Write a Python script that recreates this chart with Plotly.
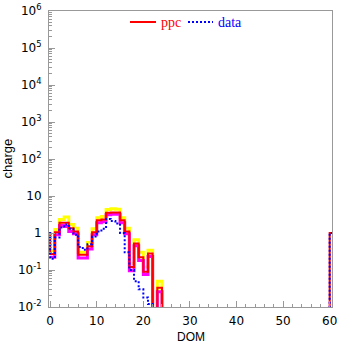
import plotly.graph_objects as go

# ---------------- data ----------------
dom = list(range(0, 61))  # lower edge of each 1-wide DOM bin

ppc = [0.27, 1.05, 1.9, 1.9, 1.35, 1.1, 0.26, 0.26, 0.44, 1.05,
       2.2, 2.3, 3.5, 3.6, 3.6, 2.2, 1.1, 0.12, 0.52, 0.22,
       0.09, 0.28, 0, 0.033, 0, 0, 0, 0, 0, 0,
       0, 0, 0, 0, 0, 0, 0, 0, 0, 0,
       0, 0, 0, 0, 0, 0, 0, 0, 0, 0,
       0, 0, 0, 0, 0, 0, 0, 0, 0, 0,
       1]

ppc_high = [0.33, 1.25, 2.3, 2.7, 1.7, 1.35, 0.3, 0.3, 0.55, 1.3,
            2.6, 2.8, 4.3, 4.5, 4.4, 2.6, 1.35, 0.15, 0.66, 0.3,
            0.12, 0.34, 0, 0.05, 0, 0, 0, 0, 0, 0,
            0, 0, 0, 0, 0, 0, 0, 0, 0, 0,
            0, 0, 0, 0, 0, 0, 0, 0, 0, 0,
            0, 0, 0, 0, 0, 0, 0, 0, 0, 0,
            0]

ppc_low = [0.22, 0.9, 1.6, 1.5, 1.1, 0.95, 0.21, 0.21, 0.37, 0.9,
           1.9, 2.0, 3.1, 3.2, 3.2, 1.9, 0.95, 0.095, 0.45, 0.18,
           0.075, 0.23, 0, 0.026, 0, 0, 0, 0, 0, 0,
           0, 0, 0, 0, 0, 0, 0, 0, 0, 0,
           0, 0, 0, 0, 0, 0, 0, 0, 0, 0,
           0, 0, 0, 0, 0, 0, 0, 0, 0, 0,
           0]

data = [0.2, 0.75, 1.4, 1.7, 1.3, 0.9, 0.42, 0.35, 0.5, 0.8,
        1.1, 1.3, 2.4, 2.1, 1.8, 1.0, 0.3, 0.1, 0.05, 0.03,
        0.018, 0.012, 0, 0, 0, 0, 0, 0, 0, 0,
        0, 0, 0, 0, 0, 0, 0, 0, 0, 0,
        0, 0, 0, 0, 0, 0, 0, 0, 0, 0,
        0, 0, 0, 0, 0, 0, 0, 0, 0, 0,
        1]

underflow_ppc = 1
underflow_data = 1

x_tick_vals = [0, 10, 20, 30, 40, 50, 60]
x_tick_text = ["0", "10", "20", "30", "40", "50", "60"]
x_minor_vals = [v for v in range(0, 61, 2) if v % 10 != 0]

y_tick_vals = [1e-2, 1e-1, 1, 10, 1e2, 1e3, 1e4, 1e5, 1e6]
y_tick_text = ["10<sup>-2</sup>", "10<sup>-1</sup>", "1", "10",
               "10<sup>2</sup>", "10<sup>3</sup>", "10<sup>4</sup>",
               "10<sup>5</sup>", "10<sup>6</sup>"]
y_minor_vals = [m * 10.0 ** e for e in range(-2, 6) for m in range(2, 10)]

# ---------------- helpers ----------------
FLOOR = 1e-6  # empty bins are drawn below the visible log range


def steps(values, underflow=None):
    xs, ys = [], []
    if underflow is not None:
        xs.append(dom[0] - 1)
        ys.append(underflow)
    for d, v in zip(dom, values):
        xs.append(d)
        ys.append(v if v > 0 else FLOOR)
    xs.append(dom[-1] + 1)
    ys.append(values[-1] if values[-1] > 0 else FLOOR)
    return xs, ys


fig = go.Figure()

for vals, uf, color, width, dash in [
    (ppc_high, None, "#ffff00", 3, "solid"),
    (ppc_low, None, "#ff00ff", 3, "solid"),
    (ppc, underflow_ppc, "#ff0000", 2, "solid"),
    (data, underflow_data, "#0000ff", 2, "2px,2px"),
]:
    xs, ys = steps(vals, uf)
    fig.add_trace(go.Scatter(x=xs, y=ys, mode="lines", line_shape="hv",
                             line=dict(color=color, width=width, dash=dash),
                             showlegend=False, hoverinfo="skip"))

AX = "#999999"
TICKFONT = dict(family="DejaVu Sans", size=12, color="black")

fig.update_layout(
    template="none",
    width=337, height=344,
    margin=dict(l=49, r=5, t=11, b=37, autoexpand=False),
    paper_bgcolor="white", plot_bgcolor="white",
    showlegend=False,
    xaxis=dict(range=[-0.25, 60.5], showgrid=False, zeroline=False,
               automargin=False, ticklabeloverflow="allow",
               showline=True, mirror=True, linecolor=AX, linewidth=1,
               ticks="inside", ticklen=6, tickcolor=AX,
               tickmode="array", tickvals=x_tick_vals, ticktext=x_tick_text,
               minor=dict(tickmode="array", tickvals=x_minor_vals,
                          ticks="inside", ticklen=3, tickcolor=AX,
                          showgrid=False),
               tickfont=TICKFONT, ticklabelstandoff=3),
    yaxis=dict(type="log", range=[-2, 6], showgrid=False, zeroline=False,
               automargin=False, ticklabeloverflow="allow",
               showline=True, mirror=True, linecolor=AX, linewidth=1,
               ticks="inside", ticklen=6, tickcolor=AX,
               tickmode="array", tickvals=y_tick_vals, ticktext=y_tick_text,
               minor=dict(tickmode="array", tickvals=y_minor_vals,
                          ticks="inside", ticklen=3, tickcolor=AX,
                          showgrid=False),
               tickfont=TICKFONT, ticklabelstandoff=4),
)

# plot-area pixel helpers for legend/title placement
L, R, T, B = 49, 332, 11, 307


def px(x):
    return (x - L) / (R - L)


def py(y):
    return (B - y) / (B - T)


# legend (drawn manually)
fig.add_shape(type="line", xref="paper", yref="paper",
              x0=px(130), x1=px(156), y0=py(22), y1=py(22),
              line=dict(color="#ff0000", width=2))
fig.add_shape(type="line", xref="paper", yref="paper",
              x0=px(188), x1=px(213), y0=py(22), y1=py(22),
              line=dict(color="#0000ff", width=2, dash="2px,2px"))
fig.add_annotation(xref="paper", yref="paper", x=px(159), y=py(22),
                   xanchor="left", yanchor="middle", showarrow=False,
                   text="ppc", font=dict(family="Liberation Serif", size=14,
                                         color="#ff0000"))
fig.add_annotation(xref="paper", yref="paper", x=px(215.5), y=py(22),
                   xanchor="left", yanchor="middle", showarrow=False,
                   text="data", font=dict(family="Liberation Serif", size=14,
                                          color="#0000ff"))

# axis titles
fig.add_annotation(xref="paper", yref="paper", x=px(190.5), y=py(337),
                   xanchor="center", yanchor="middle", showarrow=False,
                   text="DOM", font=dict(family="Liberation Sans", size=12,
                                         color="black"))
fig.add_annotation(xref="paper", yref="paper", x=px(6.5), y=0.5,
                   xanchor="center", yanchor="middle", showarrow=False,
                   textangle=-90, text="charge",
                   font=dict(family="Liberation Sans", size=13, color="black"))

fig.write_html("out.html")
